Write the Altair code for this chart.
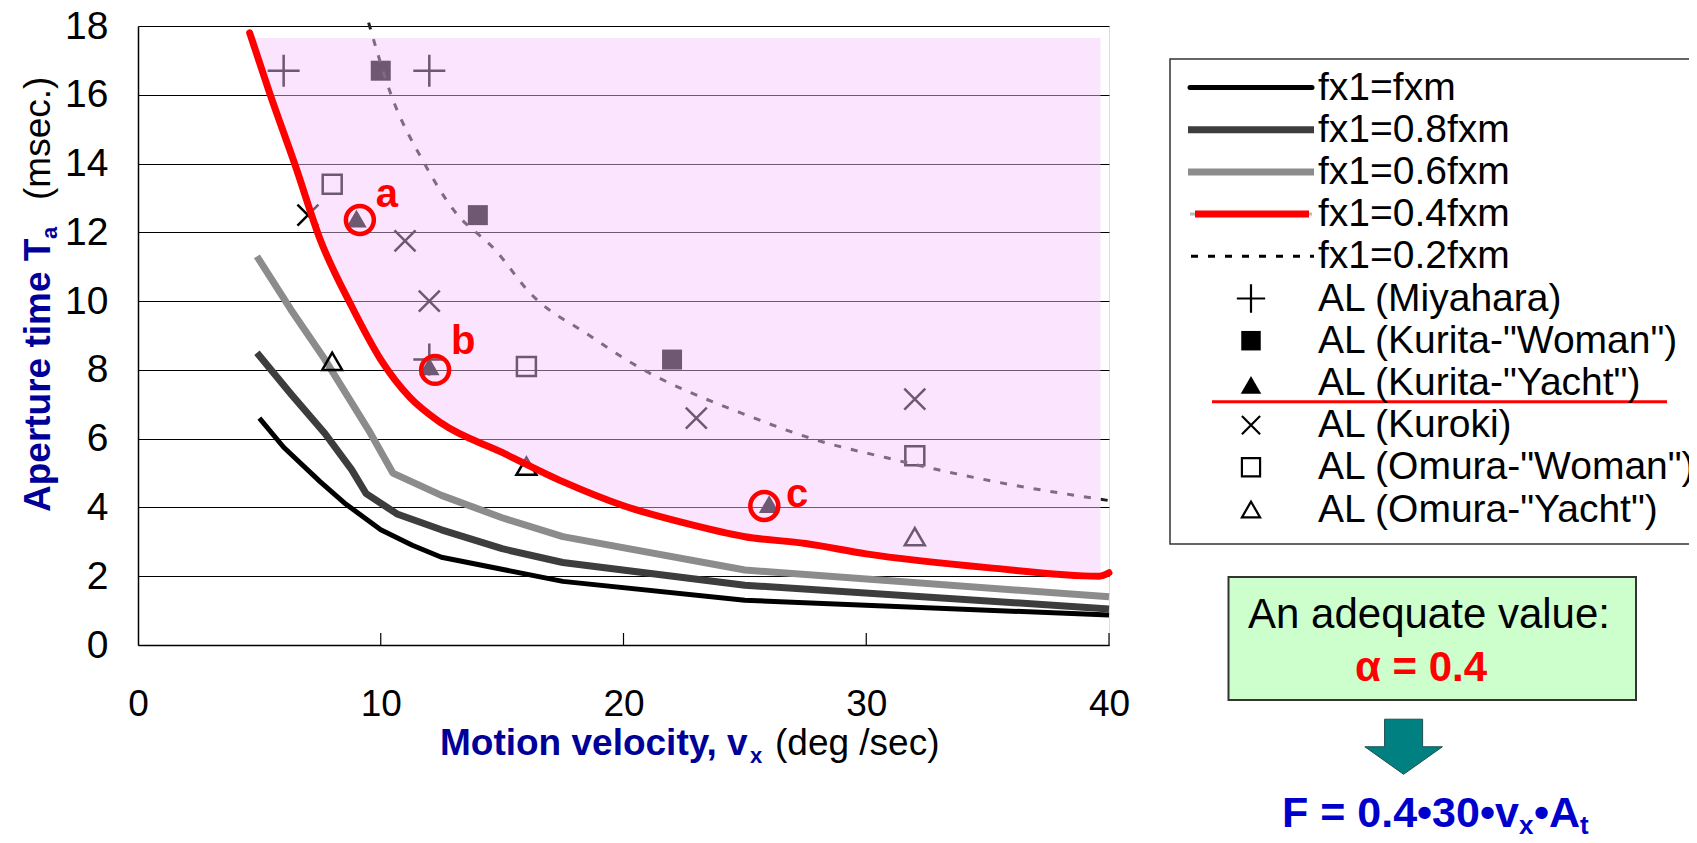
import altair as alt
import pandas as pd

FONT = "Liberation Sans"

# ---------------- data ----------------
v_f10 = [5, 6, 7.5, 8.5, 10, 11.3, 12.5, 17.5, 25, 40]
t_f10 = [6.6, 5.75, 4.75, 4.13, 3.35, 2.9, 2.55, 1.85, 1.3, 0.87]

v_f08 = [4.9, 6.3, 7.7, 8.8, 9.4, 10.7, 12.5, 15, 17.5, 25, 40]
t_f08 = [8.5, 7.3, 6.15, 5.1, 4.4, 3.8, 3.35, 2.8, 2.4, 1.74, 1.05]

v_f06 = [4.9, 6.3, 7.7, 9.5, 10.5, 12.5, 15, 17.5, 25, 40]
t_f06 = [11.3, 9.75, 8.3, 6.25, 5.0, 4.35, 3.7, 3.15, 2.18, 1.4]

v_f04 = [4.6, 5.4, 6.5, 7.5, 8.8, 10, 11.2, 12.5, 15, 17.5, 20, 22.5, 25, 27.5, 30, 35, 39.6, 40]
t_f04 = [17.8, 16.1, 13.9, 11.8, 9.85, 8.3, 7.2, 6.45, 5.6, 4.75, 4.05, 3.55, 3.15, 2.95, 2.65, 2.25, 2.0, 2.1]

v_f02 = [9.5, 10.4, 11.8, 13, 14.7, 16.2, 18.6, 20.1, 25.2, 28, 30.8, 35.3, 40]
t_f02 = [18.1, 16.05, 14.0, 12.65, 11.5, 10.2, 9.0, 8.3, 6.65, 5.95, 5.45, 4.75, 4.2]

# shaded (adequate) region: lower edge along the red curve, flat top
pink_v = [4.65, 5.4, 6.5, 7.5, 8.8, 10, 11.2, 12.5, 15, 17.5, 20, 22.5, 25, 27.5, 30, 35, 39.65]
pink_lo = [17.65, 16.1, 13.9, 11.8, 9.85, 8.3, 7.2, 6.45, 5.6, 4.75, 4.05, 3.55, 3.15, 2.95, 2.65, 2.25, 2.02]
PINK_TOP = 17.65

miy_v = [6, 12, 12]
miy_t = [16.7, 16.7, 8.3]
kw_v = [10, 14, 22]
kw_t = [16.7, 12.5, 8.3]
ky_v = [9, 12, 26]
ky_t = [12.4, 8.1, 4.1]
kur_v = [7, 11, 12, 23, 32]
kur_t = [12.5, 11.75, 10, 6.6, 7.15]
ow_v = [8, 16, 32]
ow_t = [13.4, 8.1, 5.5]
oy_v = [8, 16, 32]
oy_t = [8.25, 5.2, 3.15]

circ_v = [9.14, 12.24, 25.8]
circ_t = [12.36, 8.0, 4.04]
lab_text = ["a", "b", "c"]
lab_v = [10.25, 13.4, 27.15]
lab_t = [13.1, 8.8, 4.35]

x_ticks = [0, 10, 20, 30, 40]
y_ticks = [0, 2, 4, 6, 8, 10, 12, 14, 16, 18]
inner_ticks = [10, 20, 30, 40]

legend_labels = ["fx1=fxm", "fx1=0.8fxm", "fx1=0.6fxm", "fx1=0.4fxm", "fx1=0.2fxm",
                 "AL (Miyahara)", 'AL (Kurita-"Woman")', 'AL (Kurita-"Yacht")',
                 "AL (Kuroki)", 'AL (Omura-"Woman")', 'AL (Omura-"Yacht")']

# ---------------- layout (pixels) ----------------
W, H = 971, 619
PLUS = "M-1,0L1,0M0,-1L0,1"
XMARK = "M-1,-1L1,1M-1,1L1,-1"
ARROW = "M-0.49,-0.71L0.49,-0.71L0.49,0L1,0L0,0.71L-1,0L-0.49,0Z"

xs = alt.Scale(domain=[0, 40], nice=False, zero=False)
ys = alt.Scale(domain=[0, 18], nice=False, zero=False)


def df_xy(v, t):
    return pd.DataFrame({"v": v, "t": t})


def curve(v, t, color, width, dash=None, interp="linear", cap="butt"):
    kw = dict(color=color, strokeWidth=width, interpolate=interp, strokeCap=cap, strokeJoin="round")
    if dash:
        kw["strokeDash"] = dash
    return alt.Chart(df_xy(v, t)).mark_line(**kw).encode(
        x=alt.X("v:Q", scale=xs), y=alt.Y("t:Q", scale=ys))


def pts(v, t, shape, size, filled, sw=2.5):
    if filled:
        m = alt.Chart(df_xy(v, t)).mark_point(shape=shape, size=size, filled=True, color="black", opacity=1)
    else:
        m = alt.Chart(df_xy(v, t)).mark_point(shape=shape, size=size, filled=False, stroke="black",
                                              strokeWidth=sw, opacity=1)
    return m.encode(x=alt.X("v:Q", scale=xs), y=alt.Y("t:Q", scale=ys))


def txt(s, x, y, size, color="black", bold=False, align="left", baseline="alphabetic", angle=0):
    kw = dict(font=FONT, fontSize=size, color=color, align=align, baseline=baseline,
              fontWeight="bold" if bold else "normal")
    if angle:
        kw["angle"] = angle
    return alt.Chart(pd.DataFrame({"s": [s]})).mark_text(**kw).encode(
        x=alt.value(x), y=alt.value(y), text="s:N")


def hrule(x1, x2, y, color, width, dash=None, cap="butt"):
    kw = dict(color=color, strokeWidth=width, strokeCap=cap)
    if dash:
        kw["strokeDash"] = dash
    return alt.Chart(pd.DataFrame({"a": [0]})).mark_rule(**kw).encode(
        x=alt.value(x1), x2=alt.value(x2), y=alt.value(y))


def sym(x, y, shape, size, filled, color="black", sw=2.5, stroke=None):
    if filled:
        kw = dict(shape=shape, size=size, filled=True, fill=color, opacity=1)
        if stroke:
            kw["stroke"] = stroke
            kw["strokeWidth"] = 1
    else:
        kw = dict(shape=shape, size=size, filled=False, stroke=color, strokeWidth=sw, opacity=1)
    return alt.Chart(pd.DataFrame({"a": [0]})).mark_point(**kw).encode(
        x=alt.value(x), y=alt.value(y))


def box(x1, x2, y1, y2, fill, stroke, sw):
    return alt.Chart(pd.DataFrame({"a": [0]})).mark_rect(fill=fill, stroke=stroke, strokeWidth=sw).encode(
        x=alt.value(x1), x2=alt.value(x2), y=alt.value(y1), y2=alt.value(y2))


# ---------------- base with axes ----------------
base = alt.Chart(df_xy(v_f10, t_f10)).mark_line(color="black", strokeWidth=5, strokeJoin="round").encode(
    x=alt.X("v:Q", scale=xs, axis=alt.Axis(values=x_ticks, grid=False, ticks=False, tickSize=0,
                                            labelPadding=41, title=None, domainColor="black",
                                            domainWidth=1.5, labelFontSize=37, labelFont=FONT,
                                            labelColor="black", labelFlush=False)),
    y=alt.Y("t:Q", scale=ys, axis=alt.Axis(values=y_ticks, grid=True, gridColor="black", gridWidth=1,
                                            gridOpacity=1, ticks=False, tickSize=0, labelPadding=30,
                                            title=None, domainColor="black", domainWidth=1.5,
                                            labelFontSize=39, labelFont=FONT, labelColor="black")),
)

tick_marks = alt.Chart(pd.DataFrame({"v": inner_ticks})).mark_rule(color="black", strokeWidth=1.2).encode(
    x=alt.X("v:Q", scale=xs), y=alt.value(H), y2=alt.value(H - 12))

layers = [
    base,
    curve(v_f08, t_f08, "#3d3d3d", 7),
    curve(v_f06, t_f06, "#8c8c8c", 7),
    tick_marks,
    pts(miy_v, miy_t, PLUS, 1024, False, 2.5),
    pts(kw_v, kw_t, "square", 400, True),
    pts(ky_v, ky_t, "triangle-up", 420, True),
    pts(kur_v, kur_t, XMARK, 441, False, 2.5),
    pts(ow_v, ow_t, "square", 360, False, 2.5),
    pts(oy_v, oy_t, "triangle-up", 400, False, 2.5),
    curve(v_f02, t_f02, "#222222", 3, dash=[7, 10], interp="monotone"),
    alt.Chart(pd.DataFrame({"v": pink_v, "lo": pink_lo})).mark_area(
        color="#F7C4FB", opacity=0.45, interpolate="monotone").encode(
        x=alt.X("v:Q", scale=xs), y=alt.Y("lo:Q", scale=ys), y2=alt.Y2(datum=PINK_TOP)),
    curve(v_f04, t_f04, "#FF0000", 7, interp="monotone", cap="round"),
    alt.Chart(df_xy(circ_v, circ_t)).mark_point(shape="circle", size=780, filled=False, stroke="#FF0000",
                                                 strokeWidth=4.5, opacity=1).encode(
        x=alt.X("v:Q", scale=xs), y=alt.Y("t:Q", scale=ys)),
    alt.Chart(pd.DataFrame({"v": lab_v, "t": lab_t, "s": lab_text})).mark_text(
        font=FONT, fontSize=40, fontWeight="bold", color="#FF0000", align="center", baseline="middle").encode(
        x=alt.X("v:Q", scale=xs), y=alt.Y("t:Q", scale=ys), text="s:N"),
]

# ---------------- axis titles ----------------
NAVY = "#000099"
layers += [
    txt("Aperture time T", -88, 486, 37, NAVY, True, angle=270),
    txt("a", -81, 213, 22, NAVY, True, angle=270),
    txt("(msec.)", -88, 174, 37, "black", False, angle=270),
    txt("Motion velocity, v", 302, 729, 37, NAVY, True),
    txt("x", 612, 737, 22, NAVY, True),
    txt("(deg /sec)", 637, 729, 37, "black", False),
]

# ---------------- legend ----------------
LX0, LX1 = 1050, 1176
LMX = 1113
LTX = 1180


def ly(i):
    return 61.5 + 42.2 * i


layers += [box(1032, 1600, 33, 518, "white", "#333333", 1.5)]
layers += [
    hrule(LX0 + 2, LX1 - 2, ly(0), "black", 5, cap="round"),
    hrule(LX0, LX1, ly(1), "#3d3d3d", 7),
    hrule(LX0, LX1, ly(2), "#8c8c8c", 7),
    hrule(LX0 + 2, LX1 - 2, ly(3), "#bbbbbb", 3),
    hrule(LX0 + 7, LX1 - 5, ly(3), "#FF0000", 7),
    hrule(LX0 + 3, LX1, ly(4), "black", 3, dash=[7, 10]),
    sym(LMX, ly(5), PLUS, 800, False, sw=2.2),
    sym(LMX, ly(6), "square", 380, True),
    sym(LMX, ly(7) + 2, "triangle-up", 420, True),
    sym(LMX, ly(8), XMARK, 330, False, sw=2.2),
    sym(LMX, ly(9), "square", 330, False, sw=2.2),
    sym(LMX, ly(10), "triangle-up", 330, False, sw=2.2),
    hrule(1074, 1529, 375.7, "#FF0000", 3),
]
for i, lab in enumerate(legend_labels):
    layers.append(txt(lab, LTX, ly(i), 39, "black", False, baseline="middle"))

# ---------------- annotation box, arrow, formula ----------------
BLUE = "#0000CC"
layers += [
    box(1090.5, 1498, 551, 674, "#CCFFCC", "#333333", 2),
    txt("An adequate value:", 1291, 589, 42, "black", False, align="center", baseline="middle"),
    txt("α = 0.4", 1283, 642, 42, "#FF0000", True, align="center", baseline="middle"),
    sym(1265.6, 720.75, ARROW, 6022, True, color="#008080", stroke="#1f4f4f"),
    txt("F = 0.4•30•v", 1144, 801, 43, BLUE, True),
    txt("x", 1381, 808, 26, BLUE, True),
    txt("•A", 1396, 801, 43, BLUE, True),
    txt("t", 1442, 808, 26, BLUE, True),
]

chart = alt.layer(*layers).properties(
    width=W, height=H,
    autosize=alt.AutoSizeParams(type="none"),
    padding={"left": 130, "top": 18, "right": 580, "bottom": 190},
).configure_view(strokeWidth=0).configure(background="white")

chart.save("out.html", embed_options={"renderer": "svg", "actions": False})
